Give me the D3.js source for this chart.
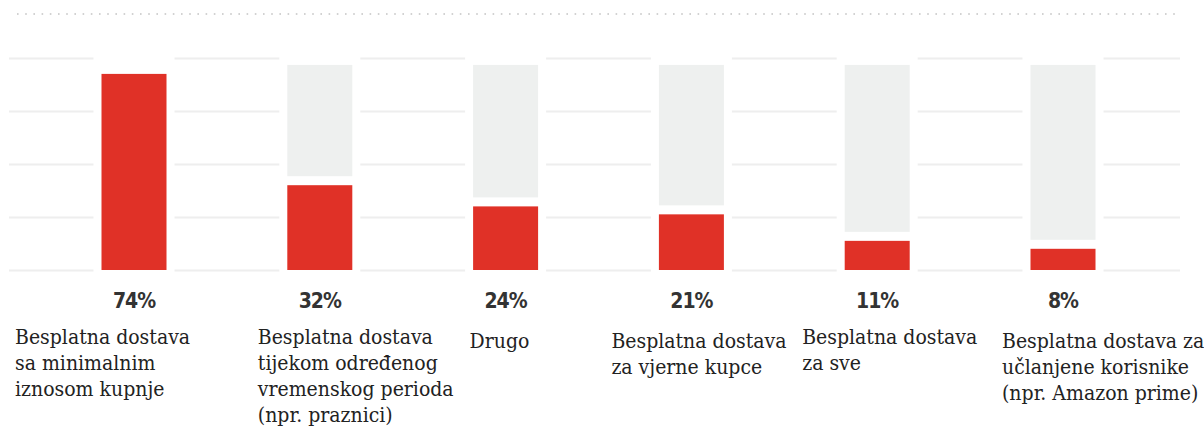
<!DOCTYPE html>
<html><head><meta charset="utf-8">
<script src="https://cdn.jsdelivr.net/npm/d3@7"></script>
<style>html,body{margin:0;padding:0;background:#fff;}svg{display:block;}</style>
</head><body>
<svg id="c" width="1204" height="428"></svg>
<script>
// ---- data ----
const categories = [
  "Besplatna dostava\nsa minimalnim\niznosom kupnje",
  "Besplatna dostava\ntijekom određenog\nvremenskog perioda\n(npr. praznici)",
  "Drugo",
  "Besplatna dostava\nza vjerne kupce",
  "Besplatna dostava\nza sve",
  "Besplatna dostava za\nučlanjene korisnike\n(npr. Amazon prime)"
];
const values = [74, 32, 24, 21, 11, 8];
const gridTicks = [0, 20, 40, 60, 80];

// ---- layout ----
const baseY = 270, topY = 58;
const barW = 65;
const labelDx = [-119, -62, -36, -80, -75, -61];
const labelDy = [0, 0, 4, 4, 0, 4];

const svg = d3.select("#c");
const x = d3.scalePoint().domain(d3.range(categories.length)).range([134, 1063]);
const y = d3.scaleLinear().domain([0, 80]).range([baseY, topY]);

// top dotted rule
svg.append("line").attr("x1", 17).attr("x2", 1178).attr("y1", 14).attr("y2", 14)
  .attr("stroke", "#c4c4c4").attr("stroke-width", 1.6).attr("stroke-dasharray", "1.6 6.6");

// gridlines
const yAxis = d3.axisLeft(y).tickValues(gridTicks).tickSize(-(1180 - 9)).tickFormat("");
const gAx = svg.append("g").attr("transform", "translate(9,0)").call(yAxis);
gAx.select(".domain").remove();
gAx.selectAll(".tick line").attr("stroke", "#eeeeee").attr("stroke-width", 2);

// white gutters around bars
svg.append("g").selectAll("rect").data(values).join("rect")
  .attr("x", (d, i) => x(i) - barW / 2 - 8).attr("width", barW + 16)
  .attr("y", topY - 5).attr("height", baseY - topY + 10).attr("fill", "#fff");

// tracks
const trackTop = y(d3.max(values)) - 9;
svg.append("g").selectAll("rect").data(values).join("rect")
  .attr("x", (d, i) => x(i) - barW / 2).attr("width", barW)
  .attr("y", trackTop).attr("height", d => Math.max(0, y(d) - 9 - trackTop))
  .attr("fill", "#eef0ef");

// bars
svg.append("g").selectAll("rect").data(values).join("rect")
  .attr("x", (d, i) => x(i) - barW / 2).attr("width", barW)
  .attr("y", d => y(d)).attr("height", d => baseY - y(d))
  .attr("fill", "#e03127");

// value labels
svg.append("g").selectAll("text").data(values).join("text")
  .attr("x", (d, i) => x(i)).attr("y", 308)
  .attr("text-anchor", "middle")
  .attr("font-size", 21).attr("font-weight", "bold").attr("fill", "#333")
  .attr("letter-spacing", -1)
  .style("font-family", '"DejaVu Sans Condensed"')
  .text(d => d + "%");

// category labels
const lab = svg.append("g").selectAll("text").data(categories).join("text")
  .attr("x", (d, i) => x(i) + labelDx[i]).attr("y", (d, i) => 344 + labelDy[i])
  .attr("font-size", 21).attr("fill", "#222")
  .style("font-family", '"DejaVu Serif Condensed"');
lab.each(function(d, i) {
  d3.select(this).selectAll("tspan").data(d.split("\n")).join("tspan")
    .attr("x", x(i) + labelDx[i]).attr("dy", (s, j) => j ? 26 : 0).text(s => s);
});
</script>
</body></html>
